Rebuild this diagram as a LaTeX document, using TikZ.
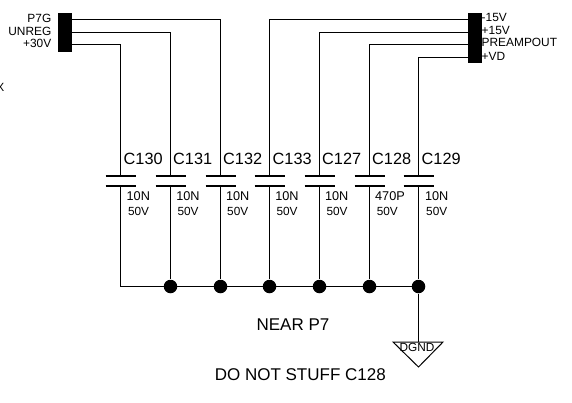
\documentclass[tikz,border=0pt]{standalone}
\usepackage{fontspec}
\setmainfont{Liberation Sans}
\begin{document}
\begin{tikzpicture}[x=1pt,y=-1pt,line width=1.4pt,
  plate/.style={line width=1.2pt},
  dot/.style={circle,fill=black,inner sep=0pt,minimum size=13.5pt},
  conn/.style={fill=black,draw=none},
  capname/.style={font=\fontsize{16.3}{18}\selectfont,inner sep=0pt,anchor=west},
  capval/.style={font=\fontsize{12.7}{14}\selectfont,inner sep=0pt},
  capvolt/.style={font=\fontsize{11.8}{14}\selectfont,inner sep=0pt},
  pinname/.style={font=\fontsize{11.9}{13}\selectfont,inner sep=0pt},
  note/.style={font=\fontsize{17}{20}\selectfont,inner sep=0pt}]
\useasboundingbox (0,0) rectangle (572,402);

% connectors
\fill[conn] (57.7,12.7) rectangle (71.7,51.7);
\fill[conn] (467.7,13) rectangle (481.7,63.3);
\coordinate (p7g) at (71,19.5);
\coordinate (unreg) at (71,32.5);
\coordinate (p30v) at (71,44.5);
\coordinate (m15v) at (468,19.5);
\coordinate (p15v) at (468,32.5);
\coordinate (preamp) at (468,44.5);
\coordinate (vd) at (468,57.5);

\node[pinname,anchor=east] (lp7g) at (52,18.5) {P7G};
\node[pinname,anchor=east] (lunreg) at (52,31) {UNREG};
\node[pinname,anchor=east] (lp30v) at (52,43) {+30V};
\node[pinname,anchor=west] (lm15v) at (481,17.5) {-15V};
\node[pinname,anchor=west] (lp15v) at (481,30.7) {+15V};
\node[pinname,anchor=west] (lpreamp) at (481,42.7) {PREAMPOUT};
\node[pinname,anchor=west] (lvd) at (481,56) {+VD};

% cut off at the left edge
\node[pinname,anchor=east] (lcut) at (5,87) {X};

% top plates
\coordinate (c130) at (120.5,176);
\coordinate (c131) at (170.5,176);
\coordinate (c132) at (220.5,176);
\coordinate (c133) at (269.5,176);
\coordinate (c127) at (319.5,176);
\coordinate (c128) at (369.5,176);
\coordinate (c129) at (418.5,176);

% bottom plates
\coordinate (b130) at (120.5,186);
\coordinate (b131) at (170.5,186);
\coordinate (b132) at (220.5,186);
\coordinate (b133) at (269.5,186);
\coordinate (b127) at (319.5,186);
\coordinate (b128) at (369.5,186);
\coordinate (b129) at (418.5,186);

\draw[plate] ([xshift=-15pt]c130) -- ([xshift=15pt]c130) ([xshift=-15pt]b130) -- ([xshift=15pt]b130);
\draw[plate] ([xshift=-15pt]c131) -- ([xshift=15pt]c131) ([xshift=-15pt]b131) -- ([xshift=15pt]b131);
\draw[plate] ([xshift=-15pt]c132) -- ([xshift=15pt]c132) ([xshift=-15pt]b132) -- ([xshift=15pt]b132);
\draw[plate] ([xshift=-15pt]c133) -- ([xshift=15pt]c133) ([xshift=-15pt]b133) -- ([xshift=15pt]b133);
\draw[plate] ([xshift=-15pt]c127) -- ([xshift=15pt]c127) ([xshift=-15pt]b127) -- ([xshift=15pt]b127);
\draw[plate] ([xshift=-15pt]c128) -- ([xshift=15pt]c128) ([xshift=-15pt]b128) -- ([xshift=15pt]b128);
\draw[plate] ([xshift=-15pt]c129) -- ([xshift=15pt]c129) ([xshift=-15pt]b129) -- ([xshift=15pt]b129);

% rails to the plates
\draw (p30v) -| (c130);
\draw (unreg) -| (c131);
\draw (p7g) -| (c132);
\draw (m15v) -| (c133);
\draw (p15v) -| (c127);
\draw (preamp) -| (c128);
\draw (vd) -| (c129);

% names and values
\node[capname] (n130) at (123,158.5) {C130};
\node[capname] (n131) at (172.5,158.5) {C131};
\node[capname] (n132) at (222.5,158.5) {C132};
\node[capname] (n133) at (272,158.5) {C133};
\node[capname] (n127) at (321.5,158.5) {C127};
\node[capname] (n128) at (371.5,158.5) {C128};
\node[capname] (n129) at (421,158.5) {C129};

\node[capval] (v130) at (138.3,196) {10N};
\node[capval] (v131) at (188,196) {10N};
\node[capval] (v132) at (237.7,196) {10N};
\node[capval] (v133) at (287,196) {10N};
\node[capval] (v127) at (336.7,196) {10N};
\node[capval] (v128) at (390,196) {470P};
\node[capval] (v129) at (436.7,196) {10N};

\node[capvolt] (w130) at (138.5,211) {50V};
\node[capvolt] (w131) at (188,211) {50V};
\node[capvolt] (w132) at (237.7,211) {50V};
\node[capvolt] (w133) at (287,211) {50V};
\node[capvolt] (w127) at (337,211) {50V};
\node[capvolt] (w128) at (387.3,211) {50V};
\node[capvolt] (w129) at (436.7,211) {50V};

% return bus
\coordinate (j130) at (120.5,286.5);
\node[dot] (j131) at (170.5,286.5) {};
\node[dot] (j132) at (220.5,286.5) {};
\node[dot] (j133) at (269.5,286.5) {};
\node[dot] (j127) at (319.5,286.5) {};
\node[dot] (j128) at (369.5,286.5) {};
\node[dot] (j129) at (418.5,286.5) {};

\draw (b130) -- (j130) -- (j129.center);
\draw (b131) -- (j131);
\draw (b132) -- (j132);
\draw (b133) -- (j133);
\draw (b127) -- (j127);
\draw (b128) -- (j128);
\draw (b129) -- (j129);

% ground
\coordinate (gnd) at (418.5,342);
\draw (j129) -- (gnd);
\draw[line width=1pt] (393,342) -- (443,342) -- (418.5,367) -- cycle;
\node[capvolt] (dgnd) at (417,347.7) {DGND};

\node[note] (near) at (293,325) {NEAR P7};
\node[note] (stuff) at (300.3,375) {DO NOT STUFF C128};
\end{tikzpicture}
\end{document}
